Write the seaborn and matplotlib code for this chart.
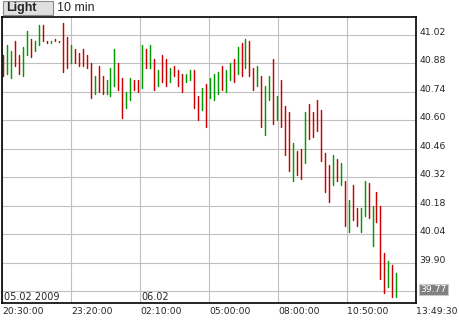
import numpy as np
import pandas as pd
import matplotlib
matplotlib.use("Agg")
import matplotlib.pyplot as plt
import matplotlib.patches as mpatches
import seaborn as sns

# ---------------- data (10-minute bars) ----------------
highs = [40.92, 40.97, 40.94, 40.99, 40.92, 40.96, 41.04, 41.00, 40.99, 41.07,
         41.07, 40.99, 40.99, 41.00, 40.99, 41.08, 41.01, 40.97, 40.95, 40.93,
         40.95, 40.92, 40.88, 40.82, 40.87, 40.82, 40.80, 40.86, 40.95, 40.88,
         40.81, 40.74, 40.81, 40.80, 40.80, 40.97, 40.95, 40.97, 40.90, 40.85,
         40.92, 40.90, 40.86, 40.87, 40.85, 40.83, 40.83, 40.85, 40.85, 40.72,
         40.76, 40.78, 40.81, 40.83, 40.84, 40.87, 40.85, 40.88, 40.90, 40.96,
         40.98, 41.00, 40.99, 40.86, 40.87, 40.82, 40.77, 40.82, 40.90, 40.72,
         40.80, 40.67, 40.64, 40.49, 40.45, 40.46, 40.64, 40.68, 40.64, 40.70,
         40.65, 40.44, 40.38, 40.43, 40.41, 40.39, 40.30, 40.21, 40.28, 40.17,
         40.17, 40.30, 40.29, 40.18, 40.25, 40.18, 39.95, 39.91, 39.89, 39.85]
lows = [40.82, 40.83, 40.81, 40.87, 40.83, 40.82, 40.92, 40.91, 40.94, 40.97,
        40.99, 40.98, 40.98, 40.99, 40.985, 40.84, 40.86, 40.88, 40.88, 40.87,
        40.87, 40.86, 40.71, 40.73, 40.74, 40.73, 40.73, 40.72, 40.77, 40.75,
        40.61, 40.66, 40.70, 40.75, 40.74, 40.76, 40.86, 40.86, 40.75, 40.77,
        40.79, 40.77, 40.79, 40.82, 40.77, 40.74, 40.79, 40.80, 40.66, 40.60,
        40.65, 40.57, 40.71, 40.70, 40.73, 40.75, 40.74, 40.80, 40.79, 40.83,
        40.82, 40.86, 40.82, 40.75, 40.77, 40.57, 40.53, 40.70, 40.58, 40.60,
        40.57, 40.43, 40.35, 40.30, 40.33, 40.31, 40.39, 40.51, 40.52, 40.55,
        40.40, 40.25, 40.20, 40.28, 40.30, 40.28, 40.08, 40.05, 40.11, 40.08,
        40.05, 40.13, 40.12, 39.98, 40.10, 39.82, 39.75, 39.78, 39.73, 39.73]
# R = falling bar, G = rising bar
direction = ("RGGRRGGRGGRRGRRRRGRRRRRGRRGGGRRGGRRGRGRGRRGRRRGGRRGRGGGRGGRGRGRRGRGGRGR"
             "RRGRRGRRRRRRGRGRGRRGGRGRRRGRG")
last_price = 39.77

y_ticks = [41.02, 40.88, 40.74, 40.60, 40.46, 40.32, 40.18, 40.04, 39.90, 39.76]
y_labels = ["41.02", "40.88", "40.74", "40.60", "40.46", "40.32", "40.18",
            "40.04", "39.90", ""]
x_labels = ["20:30:00", "23:20:00", "02:10:00", "05:00:00", "08:00:00",
            "10:50:00", "13:49:30"]
date_labels = ["05.02 2009", "06.02"]
title_button = "Light"
title_interval = "10 min"

# ---------------- build long table ----------------
n = len(highs)
idx = np.arange(n)
dir_names = ["up" if d == "G" else "down" for d in direction[:n]]
df = pd.DataFrame({
    "bar": np.repeat(idx, 2),
    "price": np.ravel(np.column_stack([highs, lows])),
    "dir": np.repeat(dir_names, 2),
})

sns.set_style("white")
plt.rcParams["font.family"] = ["DejaVu Sans"]

W, H = 460, 320
fig = plt.figure(figsize=(W / 100, H / 100), dpi=100)
fig.patch.set_facecolor("white")

left_px, right_px, top_px, bot_px = 2.5, 416.0, 16.7, 303.0
ax = fig.add_axes([left_px / W, (H - bot_px) / H,
                   (right_px - left_px) / W, (bot_px - top_px) / H])

sns.lineplot(data=df, x="bar", y="price", units="bar", estimator=None,
             hue="dir", palette={"up": "#009900", "down": "#cc0000"},
             sort=False, legend=False, linewidth=1.05, ax=ax)

x0, x1 = -0.2, 103.95
ax.set_xlim(x0, x1)
ax.set_ylim(39.702, 41.110)
ax.set_xlabel("")
ax.set_ylabel("")

xt = np.linspace(x0, x1, len(x_labels))
ax.set_xticks(xt)
ax.set_xticklabels(x_labels, fontsize=6.7)
for t in ax.get_xticklabels():
    t.set_ha("left")

ax.set_yticks(y_ticks)
ax.set_yticklabels(y_labels, fontsize=6.7)
ax.yaxis.tick_right()
ax.tick_params(axis="y", length=0, pad=2.3, labelright=True, labelleft=False)
ax.tick_params(axis="x", length=0, pad=3.0)
for t in ax.get_yticklabels():
    t.set_va("baseline")

ax.grid(True, color="#c0c0c0", linewidth=0.8)
ax.set_axisbelow(True)
for s in ax.spines.values():
    s.set_color("black")
    s.set_linewidth(1.2)
    s.set_visible(True)

# last price box
ax.annotate(f"{last_price:.2f}", xy=(1, last_price), xycoords=ax.get_yaxis_transform(),
            xytext=(2.9, 0), textcoords="offset points", ha="left", va="center",
            fontsize=6.7, color="white", annotation_clip=False,
            bbox=dict(boxstyle="square,pad=0.12", fc="#808080", ec="#c8c8c8", lw=0.8))

# date labels inside plot
ax.annotate(date_labels[0], xy=(0, 0), xycoords="axes fraction", xytext=(1.0, 2.3),
            textcoords="offset points", ha="left", va="baseline", fontsize=7)
ax.annotate(date_labels[1], xy=(xt[2], 0), xycoords=ax.get_xaxis_transform(),
            xytext=(0.8, 2.3), textcoords="offset points", ha="left",
            va="baseline", fontsize=7)

# header button
fig.patches.append(mpatches.Rectangle((2.7 / W, (H - 15) / H), 50 / W, 14 / H,
                                      transform=fig.transFigure, fc="#e0e0e0",
                                      ec="#8a8a8a", lw=0.8))
fig.text(6 / W, (H - 8.3) / H, title_button, fontsize=9, fontweight="bold",
         family=["Liberation Sans", "DejaVu Sans"], va="center", ha="left")
fig.text(57.5 / W, (H - 8.3) / H, title_interval, fontsize=9,
         family=["Liberation Sans", "DejaVu Sans"], va="center", ha="left")

fig.savefig("out.png", dpi=100, facecolor="white")
